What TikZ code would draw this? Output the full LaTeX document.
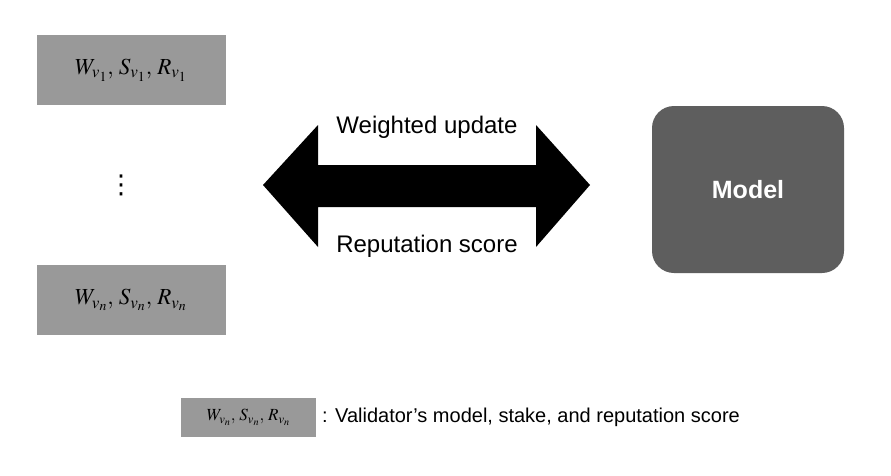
\documentclass[tikz,border=0pt]{standalone}
\usepackage{mathptmx}
\usepackage{fontspec}
\setmainfont{Liberation Sans}
\newfontfamily\symfont{DejaVu Sans}
\definecolor{boxgray}{HTML}{999999}
\definecolor{modelgray}{HTML}{5E5E5E}
\begin{document}
\begin{tikzpicture}[x=1pt,y=-1pt,
  valbox/.style={fill=boxgray, draw=none, minimum width=189pt, minimum height=70pt, inner sep=0pt, font=\fontsize{23}{27}\selectfont},
  lbl/.style={font=\fontsize{24}{28}\selectfont, inner sep=0pt}]
\useasboundingbox (0,0) rectangle (891,475);
\fill[white] (0,0) rectangle (891,475);
\node[valbox] (v1) at (131,70) {$W_{v_1},\, S_{v_1},\, R_{v_1}$};
\node[valbox] (vn) at (131,300) {$W_{v_n},\, S_{v_n},\, R_{v_n}$};
\node[inner sep=0pt, font=\fontsize{26}{30}\selectfont\symfont] (dots) at (121,185) {⋮};
\fill[black] (263,185) -- (318,125) -- (318,165) -- (536,165) -- (536,125) -- (590,185)
  -- (536,247) -- (536,207) -- (318,207) -- (318,247) -- cycle;
\node[lbl] (wu) at (427,127) {Weighted update};
\node[lbl] (rs) at (427,246) {Reputation score};
\node[fill=modelgray, rounded corners=22pt, minimum width=192pt, minimum height=167pt, inner sep=0pt,
  text=white, font=\fontsize{25}{29}\selectfont\bfseries] (model) at (748,189.5) {Model};
\node[fill=boxgray, minimum width=135pt, minimum height=39pt, inner sep=0pt,
  font=\fontsize{17}{20}\selectfont] (leg) at (248.5,417.5) {$W_{v_n},\, S_{v_n},\, R_{v_n}$};
\node[anchor=west, inner sep=0pt, font=\fontsize{20}{24}\selectfont] (legt) at (322,417) {: Validator’s model, stake, and reputation score};
\end{tikzpicture}
\end{document}
